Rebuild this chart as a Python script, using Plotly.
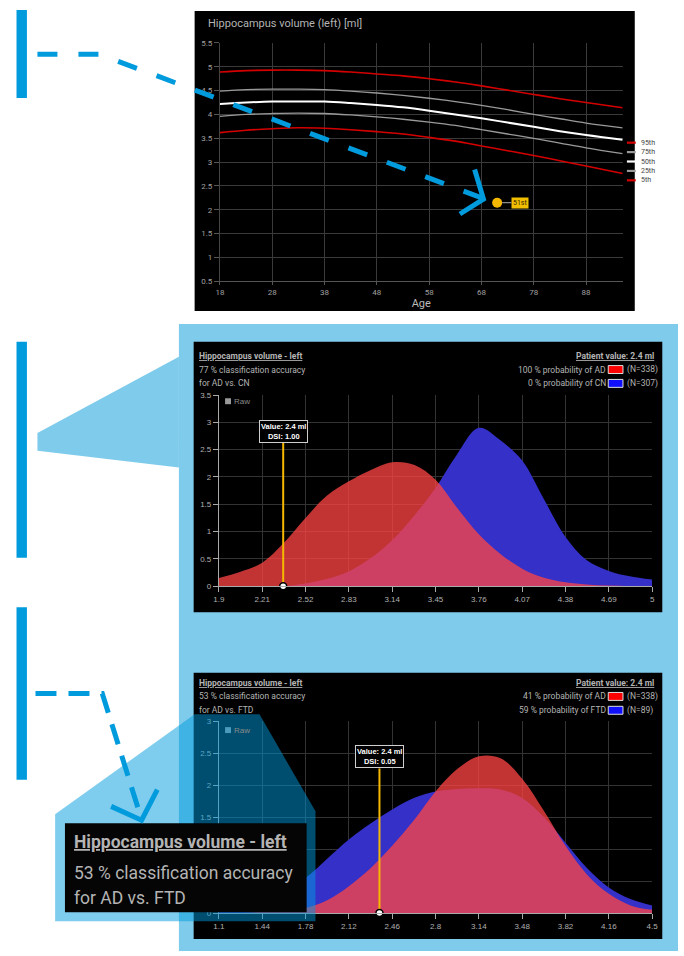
import plotly.graph_objects as go

W, H = 684, 956

# ---------------- data ----------------
# normative percentile curves, hippocampus volume (left) [ml] vs age
ages = [18, 23, 28, 33, 38, 43, 48, 53, 58, 63, 68, 73, 78, 83, 88, 95]
p95 = [4.89, 4.92, 4.93, 4.93, 4.92, 4.89, 4.85, 4.81, 4.75, 4.68, 4.60, 4.51, 4.42, 4.33, 4.25, 4.14]
p75 = [4.49, 4.52, 4.53, 4.53, 4.52, 4.49, 4.45, 4.40, 4.34, 4.27, 4.19, 4.10, 4.00, 3.91, 3.82, 3.72]
p50 = [4.22, 4.25, 4.27, 4.27, 4.27, 4.24, 4.20, 4.15, 4.08, 4.00, 3.92, 3.83, 3.74, 3.65, 3.57, 3.47]
p25 = [3.96, 4.00, 4.02, 4.03, 4.02, 3.99, 3.95, 3.90, 3.84, 3.77, 3.68, 3.59, 3.50, 3.40, 3.30, 3.18]
p5 = [3.62, 3.67, 3.70, 3.72, 3.71, 3.68, 3.64, 3.59, 3.52, 3.44, 3.34, 3.24, 3.14, 3.03, 2.92, 2.76]
percentile_names = ["95th", "75th", "50th", "25th", "5th"]

patient_age = 71
patient_volume_norm = 2.15
patient_percentile = "51st"

# AD vs. CN densities
mid_x = [1.90, 2.05, 2.21, 2.36, 2.52, 2.67, 2.83, 2.98, 3.14, 3.30, 3.45,
         3.60, 3.76, 3.91, 4.07, 4.22, 4.38, 4.53, 4.69, 4.84, 5.00]
mid_ad = [0.15, 0.26, 0.43, 0.78, 1.25, 1.65, 1.92, 2.12, 2.27, 2.22, 1.95,
          1.45, 0.95, 0.60, 0.32, 0.16, 0.07, 0.03, 0.01, 0.0, 0.0]
mid_cn = [0.0, 0.0, 0.0, 0.0, 0.05, 0.13, 0.27, 0.50, 0.84, 1.30, 1.80,
          2.40, 2.90, 2.68, 2.30, 1.62, 0.90, 0.48, 0.28, 0.18, 0.12]
mid_ticks = [1.9, 2.21, 2.52, 2.83, 3.14, 3.45, 3.76, 4.07, 4.38, 4.69, 5.0]
mid_ticktext = ["1.9", "2.21", "2.52", "2.83", "3.14", "3.45", "3.76", "4.07", "4.38", "4.69", "5"]

# AD vs. FTD densities
bot_x = [1.10, 1.27, 1.44, 1.61, 1.78, 1.95, 2.12, 2.29, 2.46, 2.63, 2.80,
         2.97, 3.14, 3.31, 3.48, 3.65, 3.82, 3.99, 4.16, 4.33, 4.50]
bot_ad = [0.0, 0.0, 0.02, 0.04, 0.08, 0.20, 0.42, 0.70, 1.05, 1.45, 1.90,
          2.25, 2.45, 2.42, 2.10, 1.60, 1.05, 0.60, 0.30, 0.12, 0.05]
bot_ftd = [0.10, 0.15, 0.22, 0.35, 0.55, 0.85, 1.15, 1.40, 1.62, 1.80, 1.90,
           1.94, 1.95, 1.93, 1.80, 1.50, 1.10, 0.70, 0.40, 0.22, 0.12]
bot_ticks = [1.1, 1.44, 1.78, 2.12, 2.46, 2.8, 3.14, 3.48, 3.82, 4.16, 4.5]
bot_ticktext = ["1.1", "1.44", "1.78", "2.12", "2.46", "2.8", "3.14", "3.48", "3.82", "4.16", "4.5"]
# y labels 0.5 and 1 of the lower panel sit under the zoom callout box
bot_yticks = [0, 0.5, 1, 1.5, 2, 2.5, 3]
bot_yticktext = ["0", "", "", "1.5", "2", "2.5", "3"]

patient_value = 2.36
dsi_cn = 1.00
dsi_ftd = 0.05
acc_cn, acc_ftd = 77, 53
prob_ad_cn, prob_cn = 100, 0
prob_ad_ftd, prob_ftd = 41, 59
n_ad, n_cn, n_ftd = 338, 307, 89

# ---------------- helpers ----------------
def fx(x):
    return x / W


def fy(y):
    return 1 - y / H


def path(points, close=False):
    s = "M " + " L ".join(f"{fx(x):.5f},{fy(y):.5f}" for x, y in points)
    return s + (" Z" if close else "")


BLUE = "#009BDD"
LIGHT = "#7FCBEB"
YELLOW = "#F5B800"
TXT = "#b4b4b4"
HFONT = "Roboto"

shapes = []
annotations = []


def rect(x0, y0, x1, y1, fill, layer="below", line=None):
    shapes.append(dict(type="rect", xref="paper", yref="paper",
                       x0=fx(x0), x1=fx(x1), y0=fy(y1), y1=fy(y0),
                       fillcolor=fill, line=line or dict(width=0), layer=layer))


def poly(points, fill, layer="below"):
    shapes.append(dict(type="path", xref="paper", yref="paper", path=path(points, True),
                       fillcolor=fill, line=dict(width=0), layer=layer))


def stroke(points, color=BLUE, width=5, dash="solid"):
    shapes.append(dict(type="path", xref="paper", yref="paper", path=path(points),
                       line=dict(color=color, width=width, dash=dash), layer="above"))


def text(x, y, s, size=8, color=TXT, anchor="left", family=HFONT):
    annotations.append(dict(xref="paper", yref="paper", x=fx(x), y=fy(y), text=s,
                            showarrow=False, xanchor=anchor, yanchor="middle",
                            font=dict(family=family, size=size, color=color)))


# ---------------- background panels ----------------
rect(176, 323, 684, 956, LIGHT)
poly([(32, 433), (176, 356), (176, 468), (32, 451)], LIGHT)
rect(192, 7, 640, 310, "#000000")
rect(191, 341, 668, 614, "#000000")
rect(191, 675, 668, 944, "#000000")
for y0, y1 in [(6, 95), (341, 559), (609, 783)]:
    rect(10.7, y0, 21.3, y1, BLUE)

fig = go.Figure()

# ---------------- top: percentile curves ----------------
styles = {"95th": ("#D40000", 1.6), "75th": ("#9a9a9a", 1.3), "50th": ("#ffffff", 2.0),
          "25th": ("#9a9a9a", 1.3), "5th": ("#D40000", 1.6)}
for name, vals in zip(percentile_names, [p95, p75, p50, p25, p5]):
    c, w = styles[name]
    fig.add_trace(go.Scatter(x=ages, y=vals, mode="lines", name=name,
                             line=dict(color=c, width=w, shape="spline"),
                             xaxis="x", yaxis="y", hoverinfo="skip"))
fig.add_trace(go.Scatter(x=[patient_age], y=[patient_volume_norm], mode="markers",
                         marker=dict(color=YELLOW, size=10), xaxis="x", yaxis="y",
                         hoverinfo="skip"))
annotations.append(dict(xref="x", yref="y", x=patient_age, y=patient_volume_norm,
                        text=patient_percentile, showarrow=True, arrowhead=0,
                        arrowcolor="#8a8a8a", arrowwidth=1.2, ax=23, ay=0, standoff=5,
                        bgcolor="#F2BE00", borderpad=1,
                        font=dict(family=HFONT, size=7, color="#3a2a00")))
text(204, 20, "Hippocampus volume (left) [ml]", size=11)

# legend of percentile curves
for i, name in enumerate(percentile_names):
    c, w = styles[name]
    yy = 140 + i * 9.5
    stroke([(632, yy), (641, yy)], color=c, width=2.2)
    text(644, yy, name, size=7, color="#444")

# ---------------- density panels ----------------
def density_panel(xa, ya, x, ad, other, val, dsi, box_level):
    fig.add_trace(go.Scatter(x=x, y=other, mode="lines", fill="tozeroy",
                             fillcolor="rgb(52,48,200)", line=dict(width=0, shape="spline"),
                             xaxis=xa, yaxis=ya, hoverinfo="skip"))
    fig.add_trace(go.Scatter(x=x, y=ad, mode="lines", fill="tozeroy",
                             fillcolor="rgba(255,68,68,0.76)", line=dict(width=0, shape="spline"),
                             xaxis=xa, yaxis=ya, hoverinfo="skip"))
    fig.add_trace(go.Scatter(x=[val, val], y=[0, box_level], mode="lines",
                             line=dict(color=YELLOW, width=2), xaxis=xa, yaxis=ya,
                             hoverinfo="skip"))
    fig.add_trace(go.Scatter(x=[val], y=[0], mode="markers", cliponaxis=False,
                             marker=dict(color="white", size=7, line=dict(color="black", width=1.5)),
                             xaxis=xa, yaxis=ya, hoverinfo="skip"))
    annotations.append(dict(xref=xa, yref=ya, x=val, y=box_level, yanchor="bottom",
                            xanchor="center", showarrow=False,
                            text=f"<b>Value: {val:.1f} ml<br>DSI: {dsi:.2f}</b>",
                            bgcolor="#000000", bordercolor="#cfcfcf", borderwidth=1,
                            borderpad=1, font=dict(family="Liberation Sans", size=7.5,
                                                   color="white")))


density_panel("x2", "y2", mid_x, mid_ad, mid_cn, patient_value, dsi_cn, 2.63)
density_panel("x3", "y3", bot_x, bot_ad, bot_ftd, patient_value, dsi_ftd, 2.26)


def header(y0, acc, group, p_ad, p_other, n_other):
    text(194, y0, "<b><u>Hippocampus volume - left</u></b>", size=8.5)
    text(194, y0 + 14, f"{acc} % classification accuracy", size=8.5)
    text(194, y0 + 28, f"for AD vs. {group}", size=8.5)
    text(662, y0, f"<b><u>Patient value: {patient_value:.1f} ml</u></b>", size=8.5, anchor="right")
    text(613, y0 + 14, f"{p_ad} % probability of AD", size=8.5, anchor="right")
    text(613, y0 + 28, f"{p_other} % probability of {group}", size=8.5, anchor="right")
    rect(613, y0 + 10, 628, y0 + 18, "#ff0000", layer="above", line=dict(color="#dddddd", width=1))
    rect(613, y0 + 24, 628, y0 + 32, "#1010ff", layer="above", line=dict(color="#dddddd", width=1))
    text(630, y0 + 14, f"(N={n_ad})", size=8.5, anchor="left")
    text(630, y0 + 28, f"(N={n_other})", size=8.5, anchor="left")


header(355, acc_cn, "CN", prob_ad_cn, prob_cn, n_cn)
header(685, acc_ftd, "FTD", prob_ad_ftd, prob_ftd, n_ftd)

for ry in (401, 733):
    rect(223, ry - 3, 229, ry + 3, "#9a9a9a", layer="above")
    text(230, ry, "Raw", size=8, color="#8a8a8a", family="Liberation Sans")

# ---------------- callouts ----------------
# dashed pointer from the top bar to the patient point
stroke([(32, 50.7), (95, 50.7), (485, 196)], dash="20px,21px")
stroke([(477, 167), (486, 197), (462, 212)])

# magnifier lens on the lower panel
poly([(50, 818), (192, 717), (258, 717), (315, 815), (315, 926), (50, 926)],
     "rgba(0,155,221,0.5)", layer="above")
rect(60, 827, 306, 917, "#050505", layer="above")
text(67, 846, "<b><u>Hippocampus volume - left</u></b>", size=17.5, color=TXT)
text(67, 877, f"{acc_ftd} % classification accuracy", size=17.5, color=TXT)
text(67, 903, "for AD vs. FTD", size=17.5, color=TXT)

stroke([(30, 696), (98, 696), (137, 820)], dash="21px,12px")
stroke([(107, 810), (138, 824), (154, 793)])

# ---------------- axes ----------------
grid = "#3a3a3a"
tick_font_top = dict(family=HFONT, size=8, color="#a0a0a0")
tick_font = dict(family="Liberation Sans", size=8, color="#b0b0b0")

fig.update_layout(
    width=W, height=H, margin=dict(l=0, r=0, t=0, b=0),
    paper_bgcolor="white", plot_bgcolor="rgba(0,0,0,0)", showlegend=False,
    shapes=shapes, annotations=annotations,
    xaxis=dict(domain=[fx(217.7), fx(627.7)], range=[18, 95], tickvals=list(range(18, 89, 10)),
               showgrid=True, gridcolor=grid, zeroline=False, showline=True, linecolor="#555",
               ticks="outside", ticklen=3, tickcolor="#555", tickfont=tick_font_top,
               title=dict(text="Age", font=dict(family=HFONT, size=11, color="#bbbbbb"), standoff=3),
               anchor="y"),
    yaxis=dict(domain=[fy(280), fy(39.3)], range=[0.5, 5.5],
               tickvals=[0.5, 1, 1.5, 2, 2.5, 3, 3.5, 4, 4.5, 5, 5.5],
               ticktext=["0.5", "1", "1.5", "2", "2.5", "3", "3.5", "4", "4.5", "5", "5.5"],
               showgrid=True, gridcolor=grid, zeroline=False, showline=True, linecolor="#444",
               ticks="outside", ticklen=5, tickcolor="#555", tickfont=tick_font_top, anchor="x"),
    xaxis2=dict(domain=[fx(216.7), fx(657.7)], range=[1.9, 5.0], tickvals=mid_ticks,
                ticktext=mid_ticktext, showgrid=True, gridcolor="#333", zeroline=False,
                showline=True, linecolor="#aaa", ticks="outside", ticklen=5, tickcolor="#aaa",
                tickfont=tick_font, anchor="y2"),
    yaxis2=dict(domain=[fy(587.7), fy(394.8)], range=[0, 3.5], dtick=0.5, showgrid=True,
                gridcolor="#333", zeroline=False, showline=True, linecolor="#aaa",
                ticks="outside", ticklen=5, tickcolor="#aaa", tickfont=tick_font, anchor="x2"),
    xaxis3=dict(domain=[fx(216.7), fx(657.7)], range=[1.1, 4.5], tickvals=bot_ticks,
                ticktext=bot_ticktext, showgrid=True, gridcolor="#333", zeroline=False,
                showline=True, linecolor="#aaa", ticks="outside", ticklen=5, tickcolor="#aaa",
                tickfont=tick_font, anchor="y3"),
    yaxis3=dict(domain=[fy(917.7), fy(723.9)], range=[0, 3], tickvals=bot_yticks,
                ticktext=bot_yticktext, showgrid=True,
                gridcolor="#333", zeroline=False, showline=True, linecolor="#aaa",
                ticks="outside", ticklen=5, tickcolor="#aaa", tickfont=tick_font, anchor="x3"),
)

fig.write_html("out.html")
